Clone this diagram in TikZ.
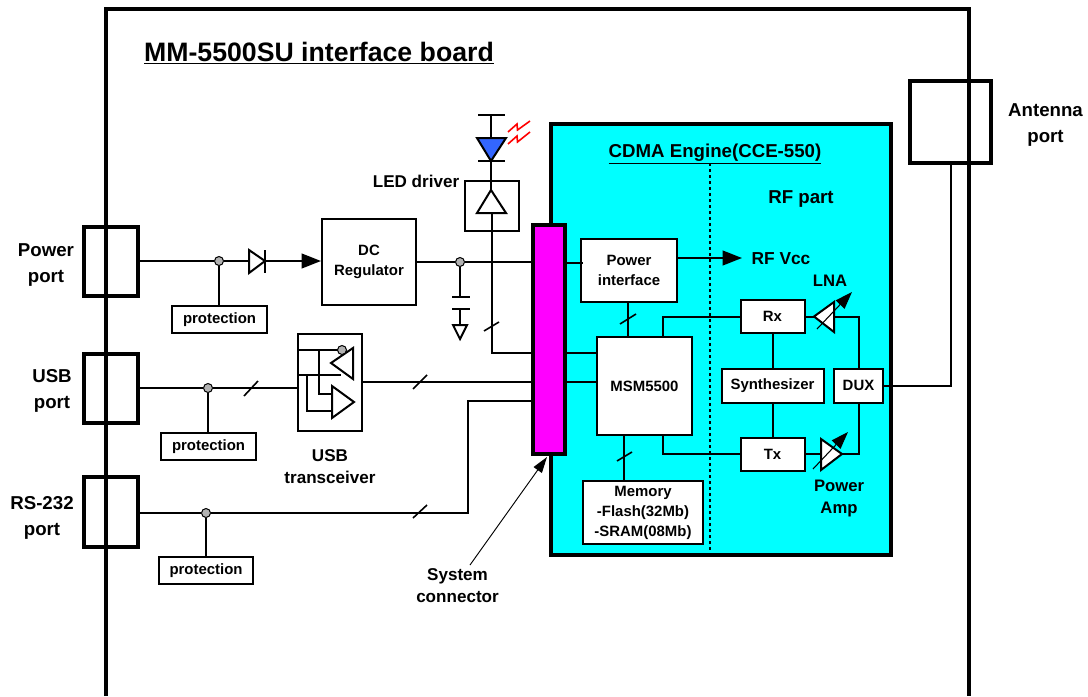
\documentclass[tikz,border=0pt]{standalone}
\usepackage{fontspec}
\setmainfont{Liberation Sans}
\usetikzlibrary{arrows.meta}
\def\px{.75pt}
\definecolor{engineCyan}{RGB}{0,255,255}
\definecolor{connMagenta}{RGB}{255,0,255}
\definecolor{ledBlue}{RGB}{51,102,255}
\tikzset{
  thinLine/.style={line width=1.5pt},
  thickBox/.style={draw, line width=3pt},
  block/.style={rectangle, draw, line width=1.5pt, fill=white, inner sep=0pt, align=center, font=\fontsize{11.2}{15}\selectfont\bfseries},
  label/.style={inner sep=0pt, align=center, font=\fontsize{12.8}{16.5}\selectfont\bfseries},
  portLabel/.style={inner sep=0pt, align=center, font=\fontsize{14}{19}\selectfont\bfseries},
  dotNode/.style={circle, draw, line width=.75pt, fill=gray!60, minimum size=9*\px, inner sep=0pt},
  slashMark/.style={line width=1.2pt},
  bigTip/.style={-{Triangle[length=14.5pt,width=11pt]}},
  gainTip/.style={-{Triangle[length=13pt,width=9pt]}, line width=.8pt}
}
\begin{document}
\begin{tikzpicture}[x=.75pt,y=-.75pt]
  \useasboundingbox (0,0) rectangle (1088,696);
  % board
  \draw[line width=3pt] (106,696) -- (106,9) -- (969,9) -- (969,696);
  \node[inner sep=0pt, font=\fontsize{20}{22}\selectfont\bfseries] (boardTitle) at (319,53) {\underline{MM-5500SU interface board}};
  % engine and connector
  \node[thickBox, fill=engineCyan, inner sep=0pt, minimum width=340*\px, minimum height=431*\px] (engine) at (721,339.5) {};
  \node[thickBox, fill=connMagenta, inner sep=0pt, minimum width=32*\px, minimum height=229*\px] (sysConn) at (549,339.5) {};
  \node[portLabel] (engineTitle) at (715,154) {\underline{CDMA Engine(CCE-550)}};
  \coordinate (splitTop) at (710,163);
  \coordinate (splitBot) at (710,554);
  \draw[line width=2pt, dash pattern=on 2.25pt off 2.25pt] (splitTop) -- (splitBot);
  % ports
  \node[thickBox, inner sep=0pt, minimum width=54*\px, minimum height=69*\px] (powerPort) at (111,261.5) {};
  \node[thickBox, inner sep=0pt, minimum width=54*\px, minimum height=69*\px] (usbPort) at (111,388.5) {};
  \node[thickBox, inner sep=0pt, minimum width=54*\px, minimum height=70*\px] (rsPort) at (111,512) {};
  \node[thickBox, inner sep=0pt, minimum width=81*\px, minimum height=82*\px] (antPort) at (950.5,122) {};
  \node[portLabel] (powerLabel) at (46,265) {Power\\port};
  \node[portLabel] (usbLabel) at (52,391) {USB\\port};
  \node[portLabel] (rsLabel) at (42,518) {RS-232\\port};
  \node[portLabel] (antLabel) at (1045.5,125) {Antenna\\port};
  % power path
  \node[block, minimum width=94*\px, minimum height=86*\px] (regulator) at (369,262) {DC\\Regulator};
  \node[block, minimum width=95*\px, minimum height=27*\px] (protA) at (219.5,319.5) {protection};
  \node[dotNode] (dotA) at (219,261) {};
  \node[dotNode] (dotC) at (460,262) {};
  \coordinate (diodeIn) at (249,261);
  \coordinate (diodeOut) at (265,261);
  \draw[thinLine] (powerPort.east |- dotA) -- (dotA) -- (diodeIn);
  \draw[thinLine] (dotA) -- (dotA |- protA.north);
  \draw[thinLine] (249,250) -- (265,261) -- (249,273) -- cycle;
  \draw[thinLine] (265,250) -- (265,273);
  \draw[thinLine, bigTip] (diodeOut) -- (regulator.west |- diodeOut);
  \draw[thinLine] (regulator.east |- dotC) -- (dotC) -- (dotC -| sysConn.west);
  % capacitor and ground
  \coordinate (capTop) at (460,297);
  \coordinate (capBot) at (460,309);
  \coordinate (gndTop) at (460,325);
  \draw[thinLine] (dotC) -- (capTop);
  \draw[thinLine] (452,297) -- (470,297);
  \draw[thinLine] (452,309) -- (470,309);
  \draw[thinLine] (capBot) -- (gndTop);
  \draw[thinLine] (453,325) -- (467,325) -- (460,339) -- cycle;
  % led and driver
  \node[block, fill=none, minimum width=54*\px, minimum height=50*\px] (ledDriver) at (492,206) {};
  \node[label] (ledLabel) at (416,181) {LED driver};
  \coordinate (ledTop) at (491,115);
  \coordinate (ledIn) at (491,138);
  \coordinate (ledOut) at (491,161);
  \coordinate (drvApex) at (491,190);
  \coordinate (drvBase) at (492,213);
  \coordinate (drvTurn) at (492,353);
  \draw[thinLine] (478,115) -- (505,115);
  \draw[thinLine] (ledTop) -- (ledIn);
  \draw[thinLine, fill=ledBlue] (477,138) -- (506,138) -- (491,161) -- cycle;
  \draw[thinLine] (478,161) -- (505,161);
  \draw[thinLine] (ledOut) -- (drvApex);
  \draw[thinLine] (477,213) -- (506,213) -- (491,190) -- cycle;
  \draw[thinLine] (drvBase) -- (drvTurn) -- (drvTurn -| sysConn.west);
  \draw[slashMark] (484,331) -- (499,322);
  \draw[red, line width=1.2pt] (508,132) -- (517,124) -- (517.5,130) -- (530,121);
  \draw[red, line width=1.2pt] (508,144) -- (517,136) -- (517.5,142) -- (530,132);
  % usb path
  \node[block, fill=none, minimum width=64*\px, minimum height=97*\px] (usbBox) at (330,382.5) {};
  \node[block, minimum width=95*\px, minimum height=27*\px] (protB) at (208.5,446.5) {protection};
  \node[dotNode] (dotB) at (208,388) {};
  \node[label] (usbXcvr) at (330,467) {USB\\transceiver};
  \coordinate (usbIn) at (298,388);
  \coordinate (usbOut) at (362,382);
  \draw[thinLine] (usbPort.east |- dotB) -- (dotB) -- (usbIn);
  \draw[thinLine] (dotB) -- (dotB |- protB.north);
  \draw[slashMark] (244,396) -- (258,381);
  \draw[thinLine] (usbOut) -- (usbOut -| sysConn.west);
  \draw[slashMark] (413,389) -- (427,375);
  \draw[thinLine] (298,350) -- (338,350);
  \draw[thinLine] (298,375) -- (341,375);
  \draw[thinLine] (319,350) -- (319,394) -- (332,394);
  \draw[thinLine] (307,375) -- (307,411) -- (332,411);
  \draw[thinLine] (331,363) -- (353,348) -- (353,379) -- cycle;
  \draw[thinLine] (332,386) -- (354,402) -- (332,418) -- cycle;
  \node[dotNode] (dotD) at (342,350) {};
  % rs-232 path
  \node[block, minimum width=94*\px, minimum height=27*\px] (protC) at (206,570.5) {protection};
  \node[dotNode] (dotE) at (206,513) {};
  \coordinate (rsTurnA) at (468,513);
  \coordinate (rsTurnB) at (468,401);
  \draw[thinLine] (rsPort.east |- dotE) -- (dotE) -- (rsTurnA) -- (rsTurnB) -- (rsTurnB -| sysConn.west);
  \draw[thinLine] (dotE) -- (protC.north);
  \draw[slashMark] (413,518) -- (427,505);
  % engine blocks
  \node[block, minimum width=96*\px, minimum height=63*\px] (powerIf) at (629,270.5) {Power\\interface};
  \node[block, minimum width=95*\px, minimum height=98*\px] (msm) at (644.5,386) {MSM5500};
  \node[block, minimum width=120*\px, minimum height=63*\px] (memory) at (643,512.5) {Memory\\-Flash(32Mb)\\-SRAM(08Mb)};
  \node[block, minimum width=64*\px, minimum height=33*\px] (rx) at (772.5,316.5) {Rx};
  \node[block, minimum width=64*\px, minimum height=33*\px] (tx) at (772.5,454) {Tx};
  \node[block, minimum width=102*\px, minimum height=34*\px] (synth) at (772.5,385.5) {Synthesizer};
  \node[block, minimum width=49*\px, minimum height=34*\px] (dux) at (858.5,385.5) {DUX};
  \node[portLabel] (rfPart) at (801,199) {RF part};
  \node[label, font=\fontsize{13}{16}\selectfont\bfseries] (rfVcc) at (781,259) {RF Vcc};
  \node[label, font=\fontsize{12.5}{16}\selectfont\bfseries] (lnaLabel) at (830,281) {LNA};
  \node[label, font=\fontsize{12.5}{17}\selectfont\bfseries] (ampLabel) at (839,498.5) {Power\\Amp};
  \node[label] (connLabel) at (457.5,585.5) {System\\connector};
  \coordinate (vccOut) at (677,258);
  \coordinate (vccEnd) at (742,258);
  \draw[thinLine, bigTip] (vccOut) -- (vccEnd);
  \draw[thinLine] (sysConn.east |- powerIf.west) ++(0,-8) -- ++(16,0);
  \draw[thinLine] (sysConn.east |- drvTurn) -- (msm.west |- drvTurn);
  \draw[thinLine] (sysConn.east |- usbOut) -- (msm.west |- usbOut);
  \draw[thinLine] (628,302) -- (628,337);
  \draw[slashMark] (620,324) -- (636,314);
  \draw[thinLine] (624,435) -- (624,481);
  \draw[slashMark] (617,461) -- (632,452);
  \draw[thinLine] (663,337) |- (rx.west);
  \draw[thinLine] (663,435) |- (tx.west);
  \draw[thinLine] (rx.south) -- (synth.north);
  \draw[thinLine] (synth.south) -- (tx.north);
  % lna and amp
  \coordinate (lnaApex) at (814,316.5);
  \coordinate (lnaBase) at (834,316.5);
  \coordinate (ampBase) at (821,454);
  \coordinate (ampApex) at (842,454);
  \draw[thinLine] (rx.east) -- (lnaApex);
  \draw[thinLine, fill=white] (lnaApex) -- (834,302) -- (834,332) -- cycle;
  \draw[thinLine] (lnaBase) -| (dux.north);
  \draw[gainTip] (817,329) -- (852,292);
  \draw[thinLine] (tx.east) -- (ampBase);
  \draw[thinLine, fill=white] (821,439) -- (ampApex) -- (821,470) -- cycle;
  \draw[thinLine] (ampApex) -| (dux.south);
  \draw[gainTip] (813,469) -- (848,432);
  % antenna
  \draw[thinLine] (dux.east) -| (antPort.south);
  % connector pointer
  \coordinate (connTail) at (470,565);
  \coordinate (connHead) at (547,457);
  \draw[line width=.7pt, -{Triangle[length=12pt,width=7.5pt]}] (connTail) -- (connHead);
\end{tikzpicture}
\end{document}
